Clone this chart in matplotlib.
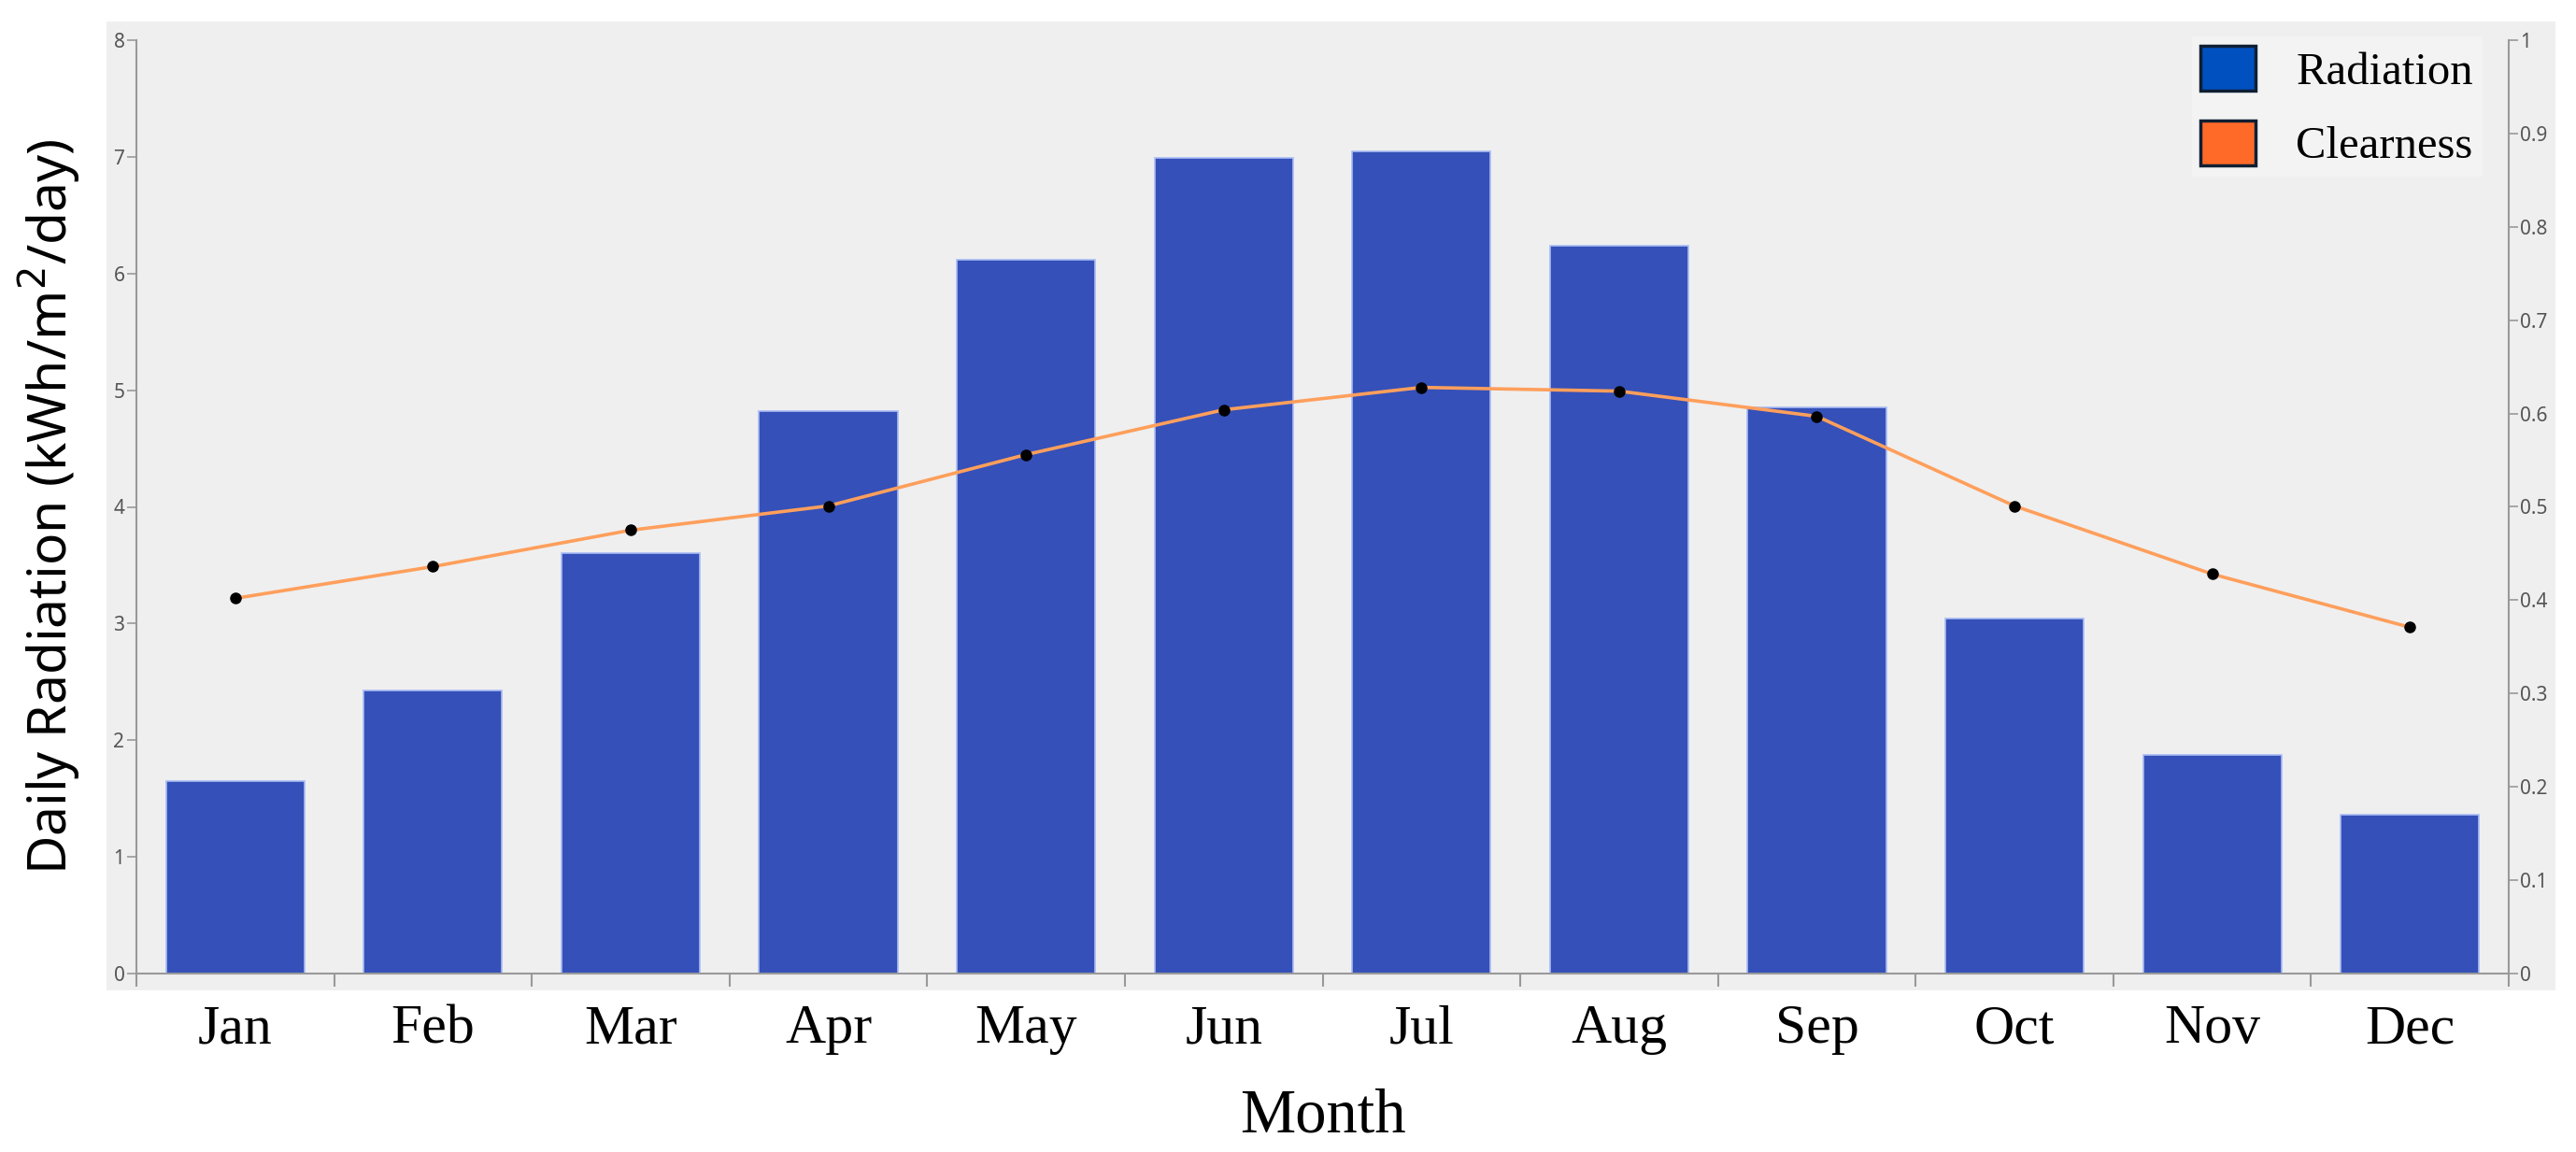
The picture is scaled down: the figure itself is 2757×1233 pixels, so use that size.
import numpy as np
import matplotlib
matplotlib.use('Agg')
import matplotlib.pyplot as plt
from matplotlib.patches import Patch
from matplotlib.ticker import MultipleLocator, FixedLocator, FuncFormatter

months = ['Jan', 'Feb', 'Mar', 'Apr', 'May', 'Jun', 'Jul', 'Aug', 'Sep', 'Oct', 'Nov', 'Dec']
radiation = [1.65, 2.43, 3.60, 4.82, 6.12, 6.99, 7.05, 6.24, 4.85, 3.04, 1.87, 1.36]
clearness = [0.402, 0.436, 0.475, 0.501, 0.556, 0.604, 0.628, 0.624, 0.597, 0.501, 0.428, 0.371]

W, H = 2757, 1233
fig = plt.figure(figsize=(W / 100, H / 100), dpi=100)
fig.patch.set_facecolor('white')

panel_col = '#EFEFEF'
# grey panel behind the plot area
bg = fig.add_axes([114 / W, 1 - 1060 / H, (2735 - 114) / W, (1060 - 23) / H], zorder=-5)
bg.set_facecolor(panel_col)
bg.set_xticks([])
bg.set_yticks([])
for s in bg.spines.values():
    s.set_visible(False)

ax = fig.add_axes([146 / W, 1 - 1042 / H, (2685 - 146) / W, (1042 - 43) / H])
ax.set_facecolor(panel_col)
x = np.arange(len(months))
ax.bar(x, radiation, width=0.7, color='#3550B8', edgecolor='#A9BCF5', linewidth=1.2, zorder=2)
ax.set_xlim(-0.5, 11.5)
ax.set_ylim(0, 8)

spine_col = '#999999'
lab_col = '#555555'
tick_font = 'Noto Sans'
for s in ['top', 'right']:
    ax.spines[s].set_visible(False)
for s in ['left', 'bottom']:
    ax.spines[s].set_color(spine_col)
    ax.spines[s].set_linewidth(1.5)

ax.yaxis.set_major_locator(MultipleLocator(1))
ax.tick_params(axis='y', colors=spine_col, labelcolor=lab_col, labelsize=15, length=7, width=1.2, pad=2)
for t in ax.get_yticklabels():
    t.set_fontfamily(tick_font)
ax.set_xticks(x)
ax.set_xticklabels(months, fontfamily='Liberation Serif', fontsize=43, color='black')
ax.tick_params(axis='x', which='major', length=0, pad=24)
ax.xaxis.set_minor_locator(FixedLocator(np.arange(-0.5, 12, 1)))
ax.tick_params(axis='x', which='minor', length=10, width=1.5, color=spine_col)

ax.set_xlabel('Month', fontfamily='Liberation Serif', fontsize=48, labelpad=25)
ax.set_ylabel('Daily Radiation (kWh/m$^2$/day)', fontfamily='Noto Sans', fontsize=41, labelpad=24)

ax2 = ax.twinx()
ax2.set_ylim(0, 1)
ax2.plot(x, clearness, color='#FF9F5C', linewidth=2.6, zorder=3)
ax2.plot(x, clearness, 'o', color='black', markersize=8, zorder=4)
for s in ['top', 'left', 'bottom']:
    ax2.spines[s].set_visible(False)
ax2.spines['right'].set_color(spine_col)
ax2.spines['right'].set_linewidth(1.5)
ax2.yaxis.set_major_locator(MultipleLocator(0.1))
ax2.yaxis.set_major_formatter(FuncFormatter(lambda v, p: ('%.1f' % v).rstrip('0').rstrip('.')))
ax2.tick_params(axis='y', colors=spine_col, labelcolor=lab_col, labelsize=15, length=7, width=1.2, pad=2)
for t in ax2.get_yticklabels():
    t.set_fontfamily(tick_font)

handles = [Patch(facecolor='#0050C0', edgecolor='#0F1F33', linewidth=2.5),
           Patch(facecolor='#FF6A28', edgecolor='#0F1F33', linewidth=2.5)]
leg = ax2.legend(handles, ['Radiation', 'Clearness'], loc='upper right',
                 bbox_to_anchor=(1 - 4 / (2685 - 146), 1 + 28 / 999),
                 prop={'family': 'Liberation Serif', 'size': 35},
                 frameon=True, facecolor='#F3F3F3', edgecolor='none', framealpha=1,
                 handlelength=1.2, handleheight=1.15, handletextpad=0.9, labelspacing=0.6,
                 borderpad=0.2, fancybox=False)

fig.savefig('out.png', dpi=100, facecolor='white')
